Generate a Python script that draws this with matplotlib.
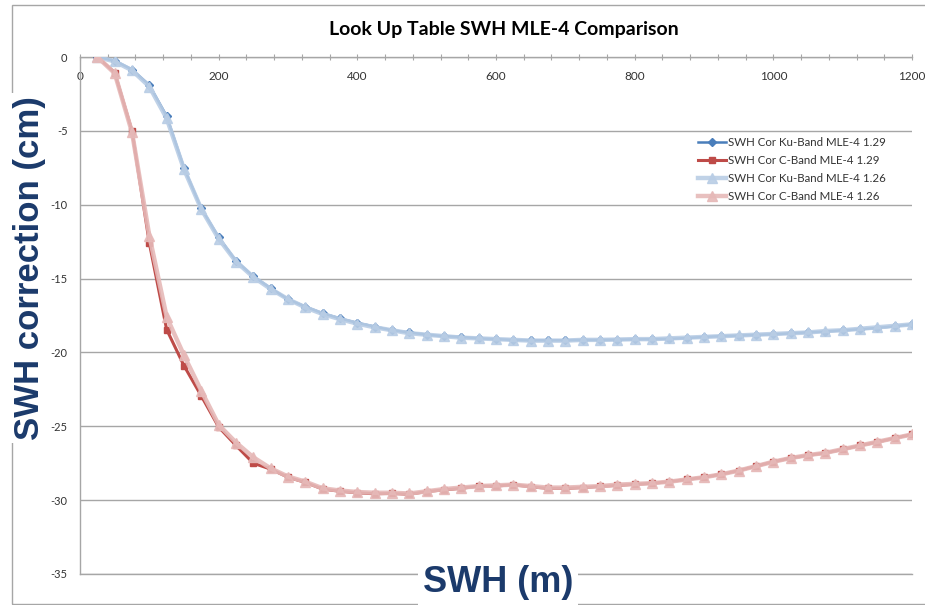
import numpy as np
import matplotlib
matplotlib.use("Agg")
import matplotlib.pyplot as plt
from matplotlib.patches import Rectangle

plt.rcParams['axes.unicode_minus'] = False

# SWH values (x axis)
swh = [25, 50, 75, 100, 125, 150, 175, 200, 225, 250,
       275, 300, 325, 350, 375, 400, 425, 450, 475, 500,
       525, 550, 575, 600, 625, 650, 675, 700, 725, 750,
       775, 800, 825, 850, 875, 900, 925, 950, 975, 1000,
       1025, 1050, 1075, 1100, 1125, 1150, 1175, 1200]

# SWH correction (cm)
ku_129 = [0.0, -0.25, -0.85, -1.9, -4.0, -7.5, -10.25, -12.2, -13.8, -14.85,
          -15.65, -16.4, -16.9, -17.35, -17.7, -18.0, -18.25, -18.5, -18.65, -18.8,
          -18.9, -18.95, -19.05, -19.1, -19.15, -19.18, -19.18, -19.18, -19.15, -19.15,
          -19.13, -19.12, -19.1, -19.08, -19.03, -18.95, -18.9, -18.86, -18.81, -18.77,
          -18.71, -18.64, -18.59, -18.5, -18.43, -18.34, -18.23, -18.1]
c_129 = [0.0, -1.05, -5.0, -12.6, -18.45, -20.9, -22.95, -25.05, -26.3, -27.5,
         -27.9, -28.45, -28.8, -29.25, -29.4, -29.5, -29.57, -29.55, -29.6, -29.42,
         -29.3, -29.2, -29.05, -29.05, -28.95, -29.1, -29.2, -29.2, -29.15, -29.07,
         -29.0, -28.93, -28.86, -28.75, -28.6, -28.45, -28.25, -28.0, -27.7, -27.4,
         -27.15, -26.97, -26.8, -26.57, -26.3, -26.07, -25.8, -25.55]
ku_126 = [0.0, -0.3, -0.9, -2.0, -4.15, -7.6, -10.3, -12.3, -13.85, -14.9,
          -15.7, -16.4, -16.95, -17.4, -17.75, -18.05, -18.3, -18.5, -18.7, -18.8,
          -18.9, -19.0, -19.05, -19.1, -19.15, -19.2, -19.2, -19.2, -19.15, -19.15,
          -19.13, -19.1, -19.1, -19.05, -19.0, -18.95, -18.9, -18.85, -18.8, -18.75,
          -18.7, -18.65, -18.55, -18.5, -18.4, -18.3, -18.2, -18.1]
c_126 = [0.0, -1.1, -5.1, -12.1, -17.6, -20.2, -22.6, -24.9, -26.1, -27.1,
         -27.85, -28.4, -28.75, -29.2, -29.35, -29.45, -29.5, -29.5, -29.55, -29.4,
         -29.25, -29.15, -29.05, -29.0, -28.95, -29.05, -29.15, -29.15, -29.1, -29.05,
         -28.95, -28.9, -28.85, -28.75, -28.6, -28.45, -28.25, -28.0, -27.7, -27.4,
         -27.15, -26.95, -26.8, -26.55, -26.3, -26.05, -25.8, -25.55]

labels = ["SWH Cor Ku-Band MLE-4 1.29", "SWH Cor C-Band MLE-4 1.29",
          "SWH Cor Ku-Band MLE-4 1.26", "SWH Cor C-Band MLE-4 1.26"]

grid_col = '#A6A6A6'
txt_col = '#333333'

fig = plt.figure(figsize=(9.25, 6.05), dpi=100)
ax = fig.add_axes([80 / 925, 1 - 574 / 605, 832 / 925, 517 / 605])

ax.plot(swh, ku_129, color='#4A7EBB', lw=1.8, marker='D', ms=4.5, label=labels[0], zorder=3)
ax.plot(swh, c_129, color='#BE4B48', lw=2.2, marker='s', ms=5, label=labels[1], zorder=3)
ax.plot(swh, ku_126, color='#B9CDE5', lw=3.2, marker='^', ms=7, alpha=0.9, label=labels[2], zorder=4)
ax.plot(swh, c_126, color='#E6B9B8', lw=3.2, marker='^', ms=7, alpha=0.9, label=labels[3], zorder=4)

ax.set_xlim(0, 1200)
ax.set_ylim(-35, 0)
ax.set_yticks(np.arange(-35, 1, 5))
ax.yaxis.grid(True, color=grid_col, lw=1.0)
ax.set_axisbelow(True)

ax.xaxis.tick_top()
ax.set_xticks(np.arange(0, 1201, 200))
ax.set_xticks(np.arange(0, 1201, 40), minor=True)
ax.tick_params(axis='x', which='both', direction='inout', length=5, width=0.8, color=grid_col)
ax.tick_params(axis='x', which='major', labeltop=True, labelbottom=False, pad=-20.5,
               labelsize=8.5, labelcolor=txt_col)
ax.tick_params(axis='y', length=0, pad=9, labelsize=8, labelcolor=txt_col)
for lab in ax.get_xticklabels() + ax.get_yticklabels():
    lab.set_family('Lato')

for side in ['top', 'left', 'bottom']:
    ax.spines[side].set_color(grid_col)
    ax.spines[side].set_linewidth(1.0)
ax.spines['right'].set_visible(False)

leg = ax.legend(loc='upper left', bbox_to_anchor=(0.743, 0.845), frameon=False,
                prop={'family': 'Lato', 'size': 8.3}, handlelength=2.4,
                handletextpad=0.15, labelspacing=0.6, borderpad=0, borderaxespad=0)
for t in leg.get_texts():
    t.set_color(txt_col)

fig.text(504 / 925, 1 - 30 / 605, "Look Up Table SWH MLE-4 Comparison", ha='center', va='center',
         fontsize=14, fontweight='bold', family='Lato', color='black')

# outer chart frame (right edge falls outside the image)
fig.patches.append(Rectangle((12 / 925, 1 / 605), 930 / 925, 599 / 605, transform=fig.transFigure,
                             fill=False, edgecolor=grid_col, lw=1.0, zorder=0))

fig.text(30 / 925, 1 - 268 / 605, "SWH correction (cm)", rotation=90, ha='center', va='center',
         fontsize=25, fontweight='bold', family='Liberation Sans', color='#1B3A6B',
         bbox=dict(facecolor='white', edgecolor='none', pad=2), zorder=5)
fig.text(498 / 925, 1 - 583 / 605, "SWH (m)", ha='center', va='center',
         fontsize=26, fontweight='bold', family='Liberation Sans', color='#1B3A6B',
         bbox=dict(facecolor='white', edgecolor='none', pad=3), zorder=5)

fig.savefig('out.png', dpi=100)
